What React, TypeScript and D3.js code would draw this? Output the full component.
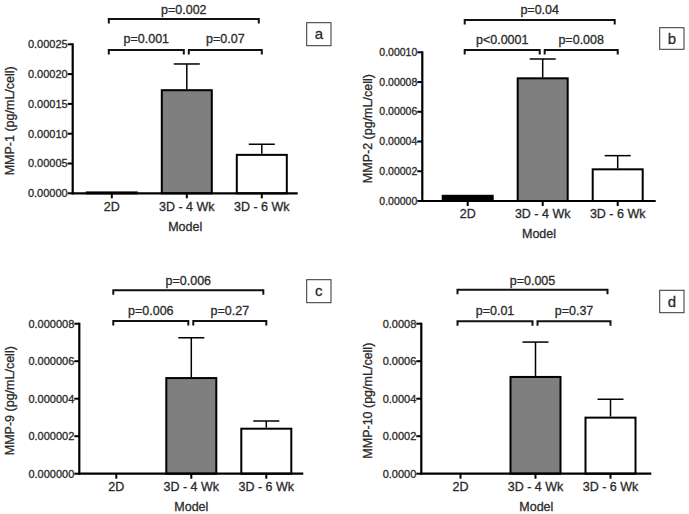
import React from "react";
import * as d3 from "d3";

const categories = ["2D", "3D - 4 Wk", "3D - 6 Wk"];
const barFills = ["#000000", "#7f7f7f", "#ffffff"];

const mmp1Means = [0.0000015, 0.000173, 0.0000645];
const mmp1Errors = [0, 0.000044, 0.0000178];
const mmp2Means = [0.0000035, 0.0000825, 0.0000213];
const mmp2Errors = [0, 0.000013, 0.0000092];
const mmp9Means = [0, 0.0000051, 0.0000024];
const mmp9Errors = [0, 0.00000215, 0.00000041];
const mmp10Means = [0, 0.000516, 0.000299];
const mmp10Errors = [0, 0.000186, 0.000098];

const mmp1Ticks = [0, 0.00005, 0.0001, 0.00015, 0.0002, 0.00025];
const mmp2Ticks = [0, 0.00002, 0.00004, 0.00006, 0.00008, 0.0001];
const mmp9Ticks = [0, 0.000002, 0.000004, 0.000006, 0.000008];
const mmp10Ticks = [0, 0.0002, 0.0004, 0.0006, 0.0008];

const panelLetters = ["a", "b", "c", "d"];
const yTitles = ["MMP-1 (pg/mL/cell)", "MMP-2 (pg/mL/cell)", "MMP-9 (pg/mL/cell)", "MMP-10 (pg/mL/cell)"];
const pLeft = ["p=0.001", "p<0.0001", "p=0.006", "p=0.01"];
const pRight = ["p=0.07", "p=0.008", "p=0.27", "p=0.37"];
const pTop = ["p=0.002", "p=0.04", "p=0.006", "p=0.005"];
const tickDecimals = [5, 5, 6, 4];

const FONT = "'Liberation Sans', Arial, Helvetica, sans-serif";
const TXT = "#2a2a2a";
const textStyle = { stroke: TXT, strokeWidth: 0.3 } as const;

type Layout = {
  axisX: number; xEnd: number; bandStart: number; y0: number; yTop: number;
  brLow: number; brTop: number; lblLow: number; lblTop: number;
  box: [number, number, number, number]; yTitleX: number; tickFont: number;
};

const layouts: Layout[] = [
  { axisX: 72.7, xEnd: 297.7, bandStart: 74.3, y0: 193.3, yTop: 44.3, brLow: 50, brTop: 19, lblLow: 39, lblTop: 9.5, box: [306.7, 22.7, 331, 45.7], yTitleX: 10, tickFont: 11 },
  { axisX: 422.3, xEnd: 655.7, bandStart: 430.2, y0: 201, yTop: 52.3, brLow: 50, brTop: 20, lblLow: 39.3, lblTop: 10, box: [659.7, 27.7, 684, 49.3], yTitleX: 368, tickFont: 10.5 },
  { axisX: 79.3, xEnd: 303.3, bandStart: 78.8, y0: 473.7, yTop: 323.7, brLow: 321, brTop: 290.3, lblLow: 310.3, lblTop: 280.3, box: [306.7, 279.7, 331, 302.7], yTitleX: 10, tickFont: 11 },
  { axisX: 421.3, xEnd: 651.3, bandStart: 423, y0: 473.7, yTop: 323.7, brLow: 321.3, brTop: 289.7, lblLow: 310.3, lblTop: 281, box: [659.7, 290.3, 684, 312.7], yTitleX: 368, tickFont: 11 },
];

const meansList = [mmp1Means, mmp2Means, mmp9Means, mmp10Means];
const errList = [mmp1Errors, mmp2Errors, mmp9Errors, mmp10Errors];
const ticksList = [mmp1Ticks, mmp2Ticks, mmp9Ticks, mmp10Ticks];

function Bracket({ x1, x2, y }: { x1: number; x2: number; y: number }) {
  const d = `M${x1},${y + 4.5}L${x1},${y}L${x2},${y}L${x2},${y + 4.5}`;
  return <path d={d} fill="none" stroke="#111" strokeWidth={2} />;
}

function Panel({ i }: { i: number }) {
  const L = layouts[i];
  const means = meansList[i];
  const errs = errList[i];
  const ticks = ticksList[i];
  const x = d3.scaleBand<string>().domain(categories).range([L.bandStart, L.bandStart + 225]).paddingInner(1 / 3).paddingOuter(1 / 6);
  const y = d3.scaleLinear().domain([0, ticks[ticks.length - 1]]).range([L.y0, L.yTop]);
  const fmt = d3.format(`.${tickDecimals[i]}f`);
  const c = categories.map((k) => (x(k) as number) + x.bandwidth() / 2);
  const [bx1, by1, bx2, by2] = L.box;
  return (
    <g>
      {categories.map((k, j) =>
        means[j] > 0 ? (
          <rect key={k} x={x(k)} y={y(means[j])} width={x.bandwidth()} height={L.y0 - y(means[j])}
            fill={barFills[j]} stroke="#000" strokeWidth={2} />
        ) : null
      )}
      {categories.map((k, j) =>
        errs[j] > 0 ? (
          <g key={"e" + k} stroke="#000" strokeWidth={1.5}>
            <line x1={c[j]} x2={c[j]} y1={y(means[j]) - 1} y2={y(means[j] + errs[j])} />
            <line x1={c[j] - 13} x2={c[j] + 13} y1={y(means[j] + errs[j])} y2={y(means[j] + errs[j])} />
          </g>
        ) : null
      )}
      <line x1={L.axisX} x2={L.axisX} y1={L.y0 + 1} y2={y(ticks[ticks.length - 1]) - 1} stroke="#000" strokeWidth={2.2} />
      {ticks.map((t) => (
        <g key={t}>
          <line x1={L.axisX - 5} x2={L.axisX} y1={y(t)} y2={y(t)} stroke="#000" strokeWidth={2} />
          <text x={L.axisX - 5} y={y(t)} dy="0.35em" textAnchor="end" fontSize={L.tickFont} fill={TXT} fontFamily={FONT} style={textStyle}>{fmt(t)}</text>
        </g>
      ))}
      <line x1={L.axisX - 1} x2={L.xEnd} y1={L.y0} y2={L.y0} stroke="#000" strokeWidth={2.2} />
      {categories.map((k, j) => (
        <g key={"x" + k}>
          <line x1={c[j]} x2={c[j]} y1={L.y0} y2={L.y0 + 5} stroke="#000" strokeWidth={2} />
          <text x={c[j]} y={L.y0 + 13} dy="0.35em" textAnchor="middle" fontSize={12.5} fill={TXT} fontFamily={FONT} style={textStyle}>{k}</text>
        </g>
      ))}
      <text x={(L.axisX + L.xEnd) / 2} y={L.y0 + 33} dy="0.35em" textAnchor="middle" fontSize={12.5} fill={TXT} fontFamily={FONT} style={textStyle}>Model</text>
      <text transform={`translate(${L.yTitleX},${(L.y0 + L.yTop) / 2 + 2}) rotate(-90)`} dy="0.35em" textAnchor="middle" fontSize={12.5} fill={TXT} fontFamily={FONT} style={textStyle}>{yTitles[i]}</text>
      <Bracket x1={c[0] - 3} x2={c[1] - 3} y={L.brLow} />
      <Bracket x1={c[1] + 2} x2={c[2]} y={L.brLow} />
      <Bracket x1={c[0] - 3} x2={c[2] - 3} y={L.brTop} />
      <text x={(c[0] + c[1]) / 2 - 3} y={L.lblLow} dy="0.35em" textAnchor="middle" fontSize={12.5} fill={TXT} fontFamily={FONT} style={textStyle}>{pLeft[i]}</text>
      <text x={(c[1] + c[2]) / 2 + 1} y={L.lblLow} dy="0.35em" textAnchor="middle" fontSize={12.5} fill={TXT} fontFamily={FONT} style={textStyle}>{pRight[i]}</text>
      <text x={(c[0] + c[2]) / 2 - 3} y={L.lblTop} dy="0.35em" textAnchor="middle" fontSize={12.5} fill={TXT} fontFamily={FONT} style={textStyle}>{pTop[i]}</text>
      <rect x={bx1} y={by1} width={bx2 - bx1} height={by2 - by1} fill="#fff" stroke="#333" strokeWidth={1} />
      <text x={(bx1 + bx2) / 2} y={(by1 + by2) / 2} dy="0.35em" textAnchor="middle" fontSize={15} fill={TXT} fontFamily={FONT} style={textStyle}>{panelLetters[i]}</text>
    </g>
  );
}

export default function App() {
  return (
    <svg width={689} height={514} style={{ position: "absolute", left: 0, top: 0, background: "#fff" }}>
      <rect x={0} y={0} width={689} height={514} fill="#fff" />
      {layouts.map((_, i) => (
        <Panel key={i} i={i} />
      ))}
    </svg>
  );
}
